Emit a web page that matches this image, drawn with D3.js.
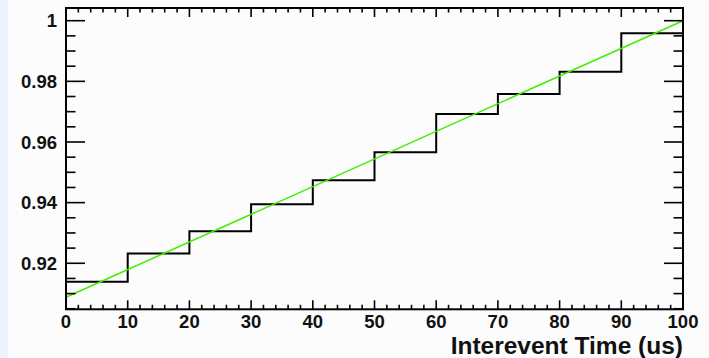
<!DOCTYPE html>
<html><head><meta charset="utf-8">
<script src="https://cdn.jsdelivr.net/npm/d3@7"></script>
<style>
html,body{margin:0;padding:0;background:#fcfcfc;}
svg{display:block;}
text{font-family:"Liberation Sans",Arial,Helvetica,sans-serif;font-weight:bold;fill:#111;}
</style></head><body>
<svg id="c" width="709" height="358"></svg>
<script>
// Data
const binEdges = [0,10,20,30,40,50,60,70,80,90,100];
const binValues = [0.9139,0.9232,0.9306,0.9395,0.9474,0.9566,0.9692,0.9758,0.9832,0.9959];
const fitX = [0,100];
const fitY = [0.9088,1.0000];
const xTickLabels = ["0","10","20","30","40","50","60","70","80","90","100"];
const yTickValues = [0.92,0.94,0.96,0.98,1];
const yTickLabels = ["0.92","0.94","0.96","0.98","1"];
const xTitle = "Interevent Time (us)";

const svg = d3.select("#c");
svg.append("rect").attr("x",0).attr("y",0).attr("width",8).attr("height",358).attr("fill","#eef2fd");

const L=66,R=683,T=8,B=309.3;
const x = d3.scaleLinear().domain([0,100]).range([L,R]);
const y = d3.scaleLinear().domain([0.90482,1.00419]).range([B,T]);

svg.append("rect").attr("x",L).attr("y",T).attr("width",R-L).attr("height",B-T).attr("fill","#fcfcfc");

// histogram step line
const pts=[[binEdges[0], y.domain()[0]]];
binValues.forEach((v,i)=>{pts.push([binEdges[i],v]);pts.push([binEdges[i+1],v]);});
pts.push([binEdges[binEdges.length-1], y.domain()[0]]);
svg.append("path")
  .attr("d", d3.line().x(d=>x(d[0])).y(d=>y(d[1]))(pts))
  .attr("fill","none").attr("stroke","#000").attr("stroke-width",2);

// fit line
svg.append("path")
  .attr("d", d3.line().x((d,i)=>x(fitX[i])).y((d,i)=>y(fitY[i]))(fitX))
  .attr("fill","none").attr("stroke","#3fee00").attr("stroke-width",1.5);

// frame
svg.append("rect").attr("x",L).attr("y",T).attr("width",R-L).attr("height",B-T)
  .attr("fill","none").attr("stroke","#000").attr("stroke-width",2);

const xMajor = d3.range(0,101,10), xMinor = d3.range(0,101,2).filter(v=>v%10!==0);
const g = svg.append("g").attr("stroke","#000").attr("stroke-width",1.6);
xMajor.forEach(v=>{
  g.append("line").attr("x1",x(v)).attr("x2",x(v)).attr("y1",B).attr("y2",B-9);
  g.append("line").attr("x1",x(v)).attr("x2",x(v)).attr("y1",T).attr("y2",T+9);
});
xMinor.forEach(v=>{
  g.append("line").attr("x1",x(v)).attr("x2",x(v)).attr("y1",B).attr("y2",B-4.5);
  g.append("line").attr("x1",x(v)).attr("x2",x(v)).attr("y1",T).attr("y2",T+4.5);
});
const yMajor = yTickValues;
const yMinor = d3.range(0,21).map(i=>0.905+i*0.005).filter(v=>v<=1.0042 && Math.abs(Math.round(v*50)-v*50)>1e-6);
yMajor.forEach(v=>{
  g.append("line").attr("x1",L).attr("x2",L+19).attr("y1",y(v)).attr("y2",y(v));
  g.append("line").attr("x1",R).attr("x2",R-19).attr("y1",y(v)).attr("y2",y(v));
});
yMinor.forEach(v=>{
  g.append("line").attr("x1",L).attr("x2",L+9.5).attr("y1",y(v)).attr("y2",y(v));
  g.append("line").attr("x1",R).attr("x2",R-9.5).attr("y1",y(v)).attr("y2",y(v));
});

// labels
xMajor.forEach((v,i)=>{
  svg.append("text").attr("x",x(v)).attr("y",328).attr("text-anchor","middle")
    .attr("font-size",18.5).text(xTickLabels[i]);
});
yMajor.forEach((v,i)=>{
  svg.append("text").attr("x",57).attr("y",y(v)+6.6).attr("text-anchor","end")
    .attr("font-size",18.5).text(yTickLabels[i]);
});
svg.append("text").attr("x",R).attr("y",353.5).attr("text-anchor","end")
  .attr("font-size",24.5).text(xTitle);
</script>
</body></html>
